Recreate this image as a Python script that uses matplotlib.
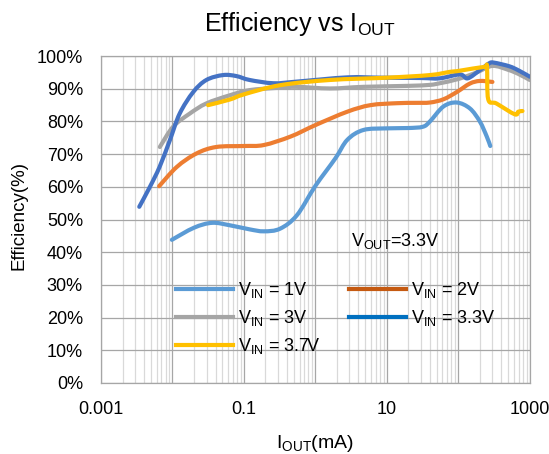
import numpy as np
import matplotlib
matplotlib.use("Agg")
import matplotlib.pyplot as plt
from matplotlib.lines import Line2D
from matplotlib.path import Path
from matplotlib.patches import PathPatch
from matplotlib.ticker import FixedLocator, FuncFormatter, NullFormatter

plt.rcParams['font.family'] = ['Liberation Sans', 'DejaVu Sans']
plt.rcParams['mathtext.fontset'] = 'custom'
plt.rcParams['mathtext.rm'] = 'Liberation Sans'
plt.rcParams['mathtext.it'] = 'Liberation Sans'

# 数据 (电流 mA, 效率 %)
x_1v = [0.0098, 0.02, 0.036, 0.065, 0.12, 0.19, 0.32, 0.55, 1.0, 1.9, 2.8, 4.7,
        10, 20, 32, 40, 62, 95, 145, 200, 250, 280]
y_1v = [43.8, 47.5, 49.0, 48.2, 47.0, 46.4, 47.2, 51.3, 60.3, 68.7, 74.4, 77.4,
        77.9, 78.0, 78.4, 80.0, 84.6, 85.8, 84.0, 80.0, 75.4, 72.5]

x_2v = [0.0065, 0.0115, 0.0216, 0.041, 0.1, 0.19, 0.45, 1.0, 2.8, 5.9, 14, 25,
        40, 62, 95, 145, 200, 300]
y_2v = [60.2, 66.1, 70.2, 72.2, 72.5, 72.8, 75.4, 78.9, 83.0, 85.0, 85.6, 85.7,
        85.8, 86.8, 89.0, 91.6, 92.4, 92.1]

x_3v = [0.00665, 0.0102, 0.0174, 0.0296, 0.063, 0.12, 0.3, 0.55, 1.6, 4.7, 20, 40,
        55, 100, 180, 300, 500, 700, 1000]
y_3v = [72.2, 78.4, 82.4, 85.5, 88.0, 89.6, 90.3, 90.6, 90.1, 90.6, 90.9, 91.2,
        91.7, 93.0, 95.0, 97.0, 95.8, 94.5, 92.7]

x_33v = [0.00343, 0.00483, 0.0066, 0.0092, 0.0126, 0.0195, 0.0298, 0.051, 0.078,
         0.12, 0.26, 0.55, 2.8, 8.3, 30, 55, 105, 135, 200, 270, 316, 515, 700, 1000]
y_33v = [53.9, 60.0, 66.1, 74.3, 82.4, 89.0, 92.7, 94.2, 93.9,
         92.7, 91.7, 92.2, 93.5, 93.4, 93.3, 93.2, 94.4, 93.2, 95.7, 97.8, 98.0, 96.9, 95.6, 93.7]

x_37v = [0.0315, 0.063, 0.1, 0.32, 1.6, 10, 40, 77, 96, 160, 236, 252, 262,
         342, 616, 690, 790]
y_37v = [85.0, 86.7, 88.3, 91.1, 92.7, 93.4, 94.2, 95.2, 95.4, 96.2, 96.7, 96.6, 86.8,
         85.5, 82.2, 83.0, 83.2]

labels = [r'V$_{\rm IN}$ = 1V', r'V$_{\rm IN}$ = 2V', r'V$_{\rm IN}$ = 3V',
          r'V$_{\rm IN}$ = 3.3V', r'V$_{\rm IN}$ = 3.7V']
line_colors = ['#5B9BD5', '#ED7D31', '#A5A5A5', '#4472C4', '#FFC000']
legend_colors = ['#5B9BD5', '#C55A11', '#A5A5A5', '#0070C0', '#FFC000']


def smooth_path(xs, ys):
    # Excel 式平滑线: 在 log(x) 空间做 Catmull-Rom 贝塞尔
    P = np.column_stack([np.log10(xs), ys])
    n = len(P)
    verts = [P[0]]
    codes = [Path.MOVETO]
    for i in range(n - 1):
        a = P[i - 1] if i > 0 else P[i]
        d = P[i + 2] if i + 2 < n else P[i + 1]
        c1 = P[i] + (P[i + 1] - a) / 6
        c2 = P[i + 1] - (d - P[i]) / 6
        verts += [c1, c2, P[i + 1]]
        codes += [Path.CURVE4] * 3
    verts = np.array(verts)
    verts[:, 0] = 10 ** verts[:, 0]
    return Path(verts, codes)


fig = plt.figure(figsize=(5.49, 4.54), dpi=100)
ax = fig.add_axes([0.184, 0.1564, 0.781, 0.720])

series = [(x_1v, y_1v), (x_2v, y_2v), (x_3v, y_3v), (x_33v, y_33v), (x_37v, y_37v)]
# 绘制顺序: 3V 在底层
for i in [2, 0, 1, 3, 4]:
    xs, ys = series[i]
    ax.add_patch(PathPatch(smooth_path(xs, ys), fill=False, ec=line_colors[i],
                           lw=3, capstyle='round', joinstyle='round', zorder=3))

ax.set_xscale('log')
ax.set_xlim(0.001, 1000)
ax.set_ylim(0, 100)

decades = [10.0 ** k for k in range(-3, 4)]
ax.xaxis.set_major_locator(FixedLocator(decades))
shown = {0.001: '0.001', 0.1: '0.1', 10.0: '10', 1000.0: '1000'}
ax.xaxis.set_major_formatter(FuncFormatter(
    lambda v, p: next((s for k, s in shown.items() if abs(v / k - 1) < 1e-6), '')))
minors = [m * 10.0 ** k for k in range(-3, 3) for m in range(2, 10)]
ax.xaxis.set_minor_locator(FixedLocator(minors))
ax.xaxis.set_minor_formatter(NullFormatter())

ax.set_yticks(np.arange(0, 101, 10))
ax.set_yticklabels([f'{v}%' for v in range(0, 101, 10)])

ax.grid(which='major', axis='both', color='#A6A6A6', lw=0.9, zorder=1)
ax.grid(which='minor', axis='x', color='#D9D9D9', lw=0.9, zorder=1)
ax.set_axisbelow(True)
for s in ax.spines.values():
    s.set_color('#A6A6A6')
    s.set_linewidth(0.9)
ax.tick_params(which='both', length=0)
ax.tick_params(axis='x', pad=13, labelsize=13)
ax.tick_params(axis='y', pad=13, labelsize=13)

fig.text(300 / 549, 1 - 31 / 454, r'Efficiency vs I$_{\rm OUT}$', fontsize=18,
         ha='center', va='baseline')
fig.text(315 / 549, 1 - 444 / 454, r'I$_{\rm OUT}$(mA)', fontsize=14,
         ha='center', va='center')
fig.text(19 / 549, 1 - 215 / 454, 'Efficiency(%)', fontsize=13.5, rotation=90,
         ha='center', va='center')

ax.text(3.2, 43.5, r'V$_{\rm OUT}$=3.3V', fontsize=13, ha='left', va='center')

order = [0, 2, 4, 1, 3]
handles = [Line2D([], [], color=legend_colors[i], lw=3) for i in order]
ax.legend(handles, [labels[i] for i in order], ncol=2, frameon=False,
          loc='upper left', bbox_to_anchor=(176 / 549, 1 - 280 / 454),
          bbox_transform=fig.transFigure, fontsize=13, handlelength=3.15,
          handletextpad=0.3, columnspacing=1.55, labelspacing=0.45,
          borderpad=0, borderaxespad=0)

fig.savefig('out.png', dpi=100)
